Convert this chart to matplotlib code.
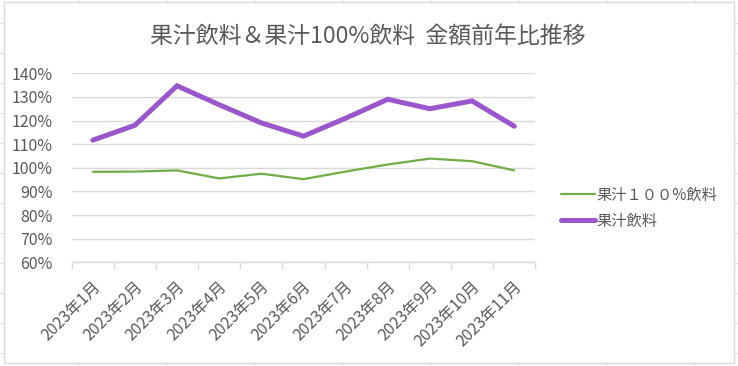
import matplotlib.pyplot as plt
from matplotlib.lines import Line2D
from matplotlib.patches import Rectangle
from matplotlib.ticker import FixedLocator, FuncFormatter
import matplotlib.transforms as mtransforms

plt.rcParams['font.family'] = ['Noto Sans CJK JP', 'DejaVu Sans']

months = ['2023年1月', '2023年2月', '2023年3月', '2023年4月', '2023年5月', '2023年6月',
          '2023年7月', '2023年8月', '2023年9月', '2023年10月', '2023年11月']
juice = [111.7, 118.0, 134.7, 126.7, 119.0, 113.4, 121.0, 129.0, 125.0, 128.3, 117.6]
juice100 = [98.3, 98.4, 98.9, 95.5, 97.5, 95.2, 98.4, 101.4, 103.9, 102.8, 98.9]

W, H = 738, 366
fig = plt.figure(figsize=(W / 100, H / 100), dpi=100)


def fx(px):
    return px / W


def fy(py):
    return 1 - py / H


# spreadsheet cell lines behind the chart
cell = '#E1E1E1'
for x in range(78, W, 88):
    fig.add_artist(Line2D([fx(x), fx(x)], [0, 1], color=cell, lw=0.8, zorder=0))
for y in range(23, H, 30):
    fig.add_artist(Line2D([0, 1], [fy(y), fy(y)], color=cell, lw=0.8, zorder=0))
fig.add_artist(Rectangle((fx(3.5), fy(362.5)), fx(734) - fx(3.5), fy(2.5) - fy(362.5),
                         transform=fig.transFigure, facecolor='white',
                         edgecolor='#D9D9D9', lw=1, zorder=1))

ax = fig.add_axes([fx(71.7), fy(262.3), fx(535.3) - fx(71.7), fy(73.3) - fy(262.3)])
ax.set_zorder(2)
ax.patch.set_alpha(0)

x = list(range(len(months)))
ax.plot(x, juice100, color='#70AD47', lw=1.6, label='果汁１００%飲料', solid_capstyle='round')
ax.plot(x, juice, color='#9A57CD', lw=3.6, label='果汁飲料', solid_capstyle='round',
        solid_joinstyle='miter')

ax.set_xlim(-0.5, len(months) - 0.5)
ax.set_ylim(60, 140)
ax.yaxis.set_major_locator(FixedLocator(range(60, 141, 10)))
ax.yaxis.set_major_formatter(FuncFormatter(lambda v, p: f'{v:.0f}%'))
ax.grid(axis='y', color='#D9D9D9', lw=1)
ax.set_axisbelow(True)

for s in ['top', 'right', 'left']:
    ax.spines[s].set_visible(False)
ax.spines['bottom'].set_color('#D9D9D9')
ax.spines['bottom'].set_linewidth(1)

ax.set_xticks(x)
ax.set_xticklabels(months, rotation=45, ha='right', va='center', rotation_mode='anchor')
ax.set_xticks([i - 0.5 for i in range(len(months) + 1)], minor=True)
ax.tick_params(axis='x', which='major', length=0, pad=16, labelsize=11.5, labelcolor='#595959')
ax.tick_params(axis='x', which='minor', length=5, color='#D9D9D9', width=1)
ax.tick_params(axis='y', length=0, pad=14, labelsize=11.5, labelcolor='#595959')
off = mtransforms.ScaledTranslation(5 / 100, 0, fig.dpi_scale_trans)
for lab in ax.get_xticklabels():
    lab.set_transform(lab.get_transform() + off)

fig.text(fx(368), fy(37), '果汁飲料＆果汁100%飲料  金額前年比推移', ha='center', va='center',
         fontsize=16.5, color='#595959')

leg = fig.legend(handles=ax.get_lines(), loc='center left',
                 bbox_to_anchor=(fx(555), fy(208)), frameon=False, fontsize=11,
                 labelcolor='#595959', handlelength=2.2, handletextpad=0.1,
                 labelspacing=0.6, borderaxespad=0)
leg.set_zorder(3)

fig.savefig('out.png', dpi=100)
